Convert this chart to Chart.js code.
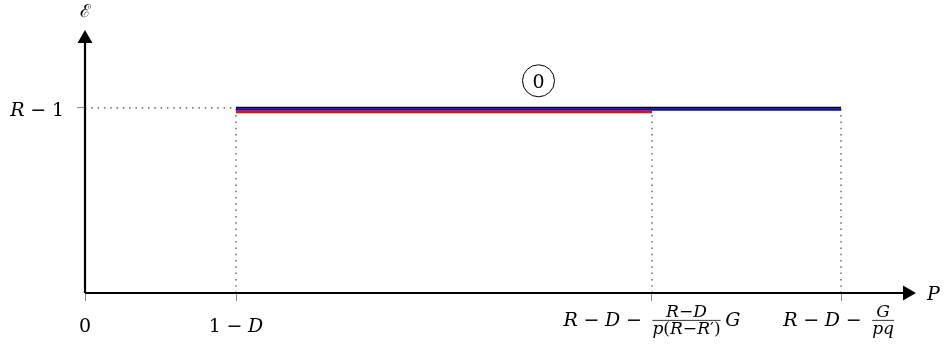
<!DOCTYPE html>
<html>
<head>
<meta charset="utf-8">
<script src="https://cdn.jsdelivr.net/npm/chart.js@4.4.1/dist/chart.umd.min.js"></script>
<style>
  html, body { margin: 0; padding: 0; background: #fff; }
  #wrap { width: 948px; height: 351px; }
</style>
</head>
<body>
<div id="wrap"><canvas id="energyChart"></canvas></div>
<script>
// breakpoints along P (arbitrary units): 0, 1−D, R−D−(R−D)G/(p(R−R′)), R−D−G/pq
const pTicks = [0, 1.51, 5.67, 7.56];
const pTickLabels = [
  [{ t: '0' }],
  [{ t: '1 − D' }],
  [{ t: 'R − D − ' }, { num: 'R−D', den: 'p(R−R′)' }, { t: 'G' }],
  [{ t: 'R − D − ' }, { num: 'G', den: 'pq' }]
];
const pMax = 8.31;

// energy axis: the only marked level is R − 1
const energyTicks = [1];
const energyTickLabels = ['R − 1'];
const energyMax = 1.42;

// each strategy sits at R − 1 over its own range of P
const energyLevel = 1;
const blackRange = [1.51, 7.56];
const blueRange = [1.51, 7.56];
const redRange = [1.51, 5.67];
const regionLabel = '0';

const FONT = '"DejaVu Serif", "Liberation Serif", serif';
const MAIN = 19;
const OP_SPACE = 0.3;
const SCRIPT = 0.9;
const FRAC_PAD = 0.25;

function fontFor(ch, size) {
  return (/[A-Za-z]/.test(ch) ? 'italic ' : '') + size + 'px ' + FONT;
}
function runWidth(ctx, str, size) {
  let w = 0;
  for (const ch of str) {
    if (ch === ' ') { w += size * OP_SPACE; continue; }
    ctx.font = fontFor(ch, size);
    w += ctx.measureText(ch).width;
  }
  return w;
}
function drawRun(ctx, str, x, y, size) {
  for (const ch of str) {
    if (ch === ' ') { x += size * OP_SPACE; continue; }
    ctx.font = fontFor(ch, size);
    ctx.fillText(ch, x, y);
    x += ctx.measureText(ch).width;
  }
  return x;
}
// width of a formula made of plain runs and fractions
function mathWidth(ctx, parts, size) {
  let w = 0;
  for (const p of parts) {
    if (p.t !== undefined) w += runWidth(ctx, p.t, size);
    else w += Math.max(runWidth(ctx, p.num, size * SCRIPT), runWidth(ctx, p.den, size * SCRIPT)) + size * FRAC_PAD * 2;
  }
  return w;
}
function drawMath(ctx, parts, x, y, size) {
  for (const p of parts) {
    if (p.t !== undefined) { x = drawRun(ctx, p.t, x, y, size); continue; }
    const s = size * SCRIPT;
    const nw = runWidth(ctx, p.num, s), dw = runWidth(ctx, p.den, s);
    const w = Math.max(nw, dw);
    const x0 = x + size * FRAC_PAD;
    const bar = y - size * 0.3;
    drawRun(ctx, p.num, x0 + (w - nw) / 2, bar - size * 0.2, s);
    drawRun(ctx, p.den, x0 + (w - dw) / 2, bar + size * 0.74, s);
    ctx.fillRect(x0, bar - 0.4, w, 0.8);
    x += w + size * FRAC_PAD * 2;
  }
  return x;
}

function arrowHead(ctx, tipX, tipY, dx, dy) {
  const len = 13, half = 7.5;
  const bx = tipX - dx * len, by = tipY - dy * len;
  ctx.beginPath();
  ctx.moveTo(tipX, tipY);
  ctx.lineTo(bx - dy * half, by + dx * half);
  ctx.lineTo(bx + dy * half, by - dx * half);
  ctx.closePath();
  ctx.fill();
}

// shifts a line by a few pixels so coincident levels stay visible
const stackShift = {
  id: 'stackShift',
  beforeDatasetDraw(chart, args) {
    chart.ctx.save();
    chart.ctx.translate(0, args.meta.controller.getDataset().shiftY || 0);
  },
  afterDatasetDraw(chart) {
    chart.ctx.restore();
  }
};

const axesAndLabels = {
  id: 'axesAndLabels',
  afterDraw(chart) {
    const { ctx, chartArea: a, scales: { x, y } } = chart;
    const x0 = x.getPixelForValue(0), y0 = y.getPixelForValue(0);
    ctx.save();
    ctx.strokeStyle = '#000';
    ctx.fillStyle = '#000';
    ctx.lineWidth = 2.2;
    ctx.beginPath();
    ctx.moveTo(x0, y0);
    ctx.lineTo(a.right - 8, y0);
    ctx.moveTo(x0, y0);
    ctx.lineTo(x0, a.top + 8);
    ctx.stroke();
    arrowHead(ctx, a.right, y0, 1, 0);
    arrowHead(ctx, x0, a.top, 0, -1);

    // axis names
    ctx.textBaseline = 'alphabetic';
    ctx.textAlign = 'left';
    ctx.font = 'italic 19px ' + FONT;
    ctx.fillText('P', a.right + 11, y0 + 7);
    ctx.font = '18px ' + FONT;
    ctx.textAlign = 'center';
    ctx.fillText('ℰ', x0, a.top - 13);
    ctx.textAlign = 'left';

    // P tick labels; labels holding a fraction sit a little higher
    pTicks.forEach((v, i) => {
      const parts = pTickLabels[i];
      const hasFrac = parts.some(p => p.num !== undefined);
      const w = mathWidth(ctx, parts, MAIN);
      drawMath(ctx, parts, x.getPixelForValue(v) - w / 2, y0 + (hasFrac ? 33 : 39), MAIN);
    });
    // energy tick labels
    energyTicks.forEach((v, i) => {
      const parts = [{ t: energyTickLabels[i] }];
      const w = mathWidth(ctx, parts, MAIN);
      drawMath(ctx, parts, x0 - 21 - w, y.getPixelForValue(v) + 8, MAIN);
    });

    // circled region label above the middle of the black line
    const cx = x.getPixelForValue((blackRange[0] + blackRange[1]) / 2);
    const cy = y.getPixelForValue(energyLevel) - 27;
    ctx.lineWidth = 1;
    ctx.beginPath();
    ctx.arc(cx, cy, 16, 0, Math.PI * 2);
    ctx.stroke();
    ctx.font = MAIN + 'px ' + FONT;
    ctx.textAlign = 'center';
    ctx.fillText(regionLabel, cx, cy + 7);
    ctx.restore();
  }
};

const seg = (r) => r.map(p => ({ x: p, y: energyLevel }));
const guide = (pts) => ({
  data: pts,
  borderColor: '#444',
  borderWidth: 1.2,
  borderDash: [1.5, 4.8],
  pointRadius: 0
});

new Chart(document.getElementById('energyChart'), {
  type: 'line',
  data: {
    datasets: [
      { data: seg(blackRange), borderColor: '#000', borderWidth: 2, pointRadius: 0, shiftY: 0 },
      { data: seg(blueRange), borderColor: '#0000ff', borderWidth: 2, pointRadius: 0, shiftY: 2 },
      { data: seg(redRange), borderColor: '#ff0000', borderWidth: 2.3, pointRadius: 0, shiftY: 4.3 },
      guide([{ x: 0, y: energyLevel }, { x: blackRange[0], y: energyLevel }]),
      guide([{ x: blackRange[0], y: 0 }, { x: blackRange[0], y: energyLevel }]),
      guide([{ x: redRange[1], y: 0 }, { x: redRange[1], y: energyLevel }]),
      guide([{ x: blueRange[1], y: 0 }, { x: blueRange[1], y: energyLevel }])
    ]
  },
  options: {
    responsive: true,
    maintainAspectRatio: false,
    animation: false,
    events: [],
    layout: { padding: { top: 30, right: 32, left: 0, bottom: 0 } },
    elements: { line: { borderCapStyle: 'butt', tension: 0 } },
    plugins: { legend: { display: false }, tooltip: { enabled: false } },
    scales: {
      x: {
        type: 'linear',
        min: 0,
        max: pMax,
        afterBuildTicks: s => { s.ticks = pTicks.map(v => ({ value: v })); },
        afterFit: s => { s.height = 58; },
        ticks: { display: false },
        border: { display: false },
        grid: { drawOnChartArea: false, drawTicks: true, tickLength: 8, color: '#888', lineWidth: 1 }
      },
      y: {
        type: 'linear',
        min: 0,
        max: energyMax,
        afterBuildTicks: s => { s.ticks = energyTicks.map(v => ({ value: v })); },
        afterFit: s => { s.width = 85; },
        ticks: { display: false },
        border: { display: false },
        grid: { drawOnChartArea: false, drawTicks: true, tickLength: 8, color: '#888', lineWidth: 1 }
      }
    }
  },
  plugins: [stackShift, axesAndLabels]
});
</script>
</body>
</html>
